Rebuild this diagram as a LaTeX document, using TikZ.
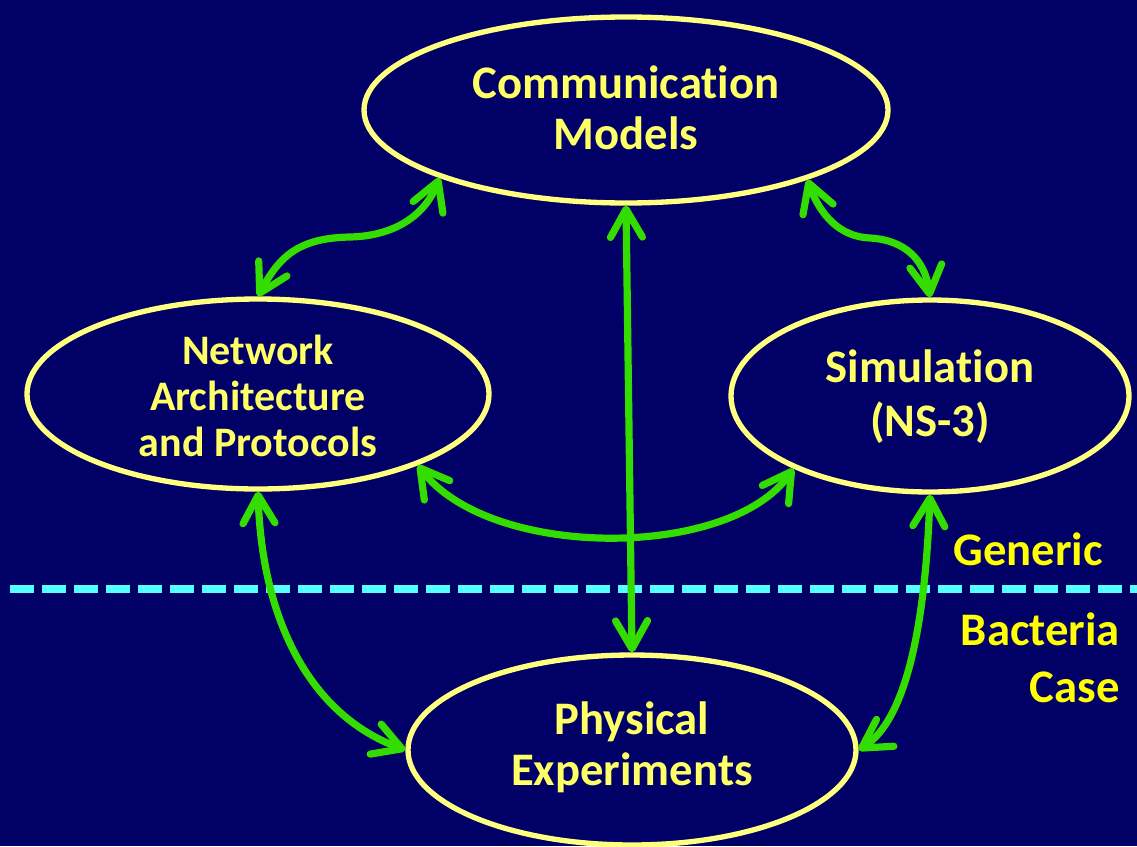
\documentclass[tikz,border=0pt]{standalone}
\usepackage{fontspec}
\setmainfont{Carlito}[RawFeature={-liga;-clig;-calt}]
\usetikzlibrary{shapes.geometric,arrows.meta}
\definecolor{bgnavy}{HTML}{000066}
\definecolor{ringyel}{HTML}{FFFF80}
\definecolor{txtyel}{HTML}{FFFF66}
\definecolor{sideyel}{HTML}{FFFF00}
\definecolor{arrgreen}{HTML}{33DD00}
\definecolor{dashcyan}{HTML}{55FFFF}
\tikzset{
  oval/.style={ellipse, draw=ringyel, line width=4pt, fill=bgnavy, inner sep=0pt},
  bigtxt/.style={text=txtyel, align=center, inner sep=0pt, font=\bfseries\fontsize{35}{38.5}\selectfont},
  sidetxt/.style={text=sideyel, align=right, inner sep=0pt, font=\bfseries\fontsize{35}{43}\selectfont},
  link/.style={draw=arrgreen, line width=5.4pt, line cap=round,
    {Straight Barb[length=21pt,width=24pt,round]}-{Straight Barb[length=21pt,width=24pt,round]}},
}
\begin{document}
\begin{tikzpicture}[x=0.75pt,y=-0.75pt]
\fill[bgnavy] (0,0) rectangle (1137,846);
\useasboundingbox (0,0) rectangle (1137,846);
% dashed separator
\coordinate (dl) at (10,589);
\coordinate (dr) at (1137,589);
\draw[dashcyan, line width=6pt, dash pattern=on 18pt off 6pt] (dl) -- (dr);
% ellipses
\node[oval, minimum width=393pt, minimum height=139.5pt] (comm) at (626,110) {};
\node[oval, minimum width=346.5pt, minimum height=142.5pt] (net) at (258,394) {};
\node[oval, minimum width=298.5pt, minimum height=144pt] (sim) at (930,396) {};
\node[oval, minimum width=336pt, minimum height=142.5pt] (phys) at (632,750) {};
% texts
\node[bigtxt] (commT) at (626,107.5) {Communication\\Models};
\node[bigtxt, font=\bfseries\fontsize{31.5}{34.5}\selectfont] (netT) at (258,396) {Network\\Architecture\\and Protocols};
\node[bigtxt, font=\bfseries\fontsize{35}{40}\selectfont] (simT) at (930,396.5) {Simulation\\(NS-3)};
\node[bigtxt] (physT) at (632,747.5) {Physical\\Experiments};
\node[sidetxt] (gen) at (1028,549) {Generic};
\node[sidetxt, anchor=east] (bact) at (1120,658) {Bacteria\\Case};
% connectors
\draw[link] (net.north) .. controls (280,255) and (300,238) .. (350,237)
  .. controls (395,236) and (425,215) .. (comm.200);
\draw[link] (comm.339) .. controls (820,215) and (840,237) .. (870,238)
  .. controls (905,240) and (925,260) .. (sim.north);
\draw[link] (comm.south) -- (phys.north);
\draw[link] (net.336) .. controls (490,560) and (730,560) .. (sim.208);
\draw[link] (net.south) .. controls (262,620) and (310,715) .. (phys.west);
\draw[link] (sim.south) .. controls (925,630) and (905,720) .. (phys.east);
\end{tikzpicture}
\end{document}
